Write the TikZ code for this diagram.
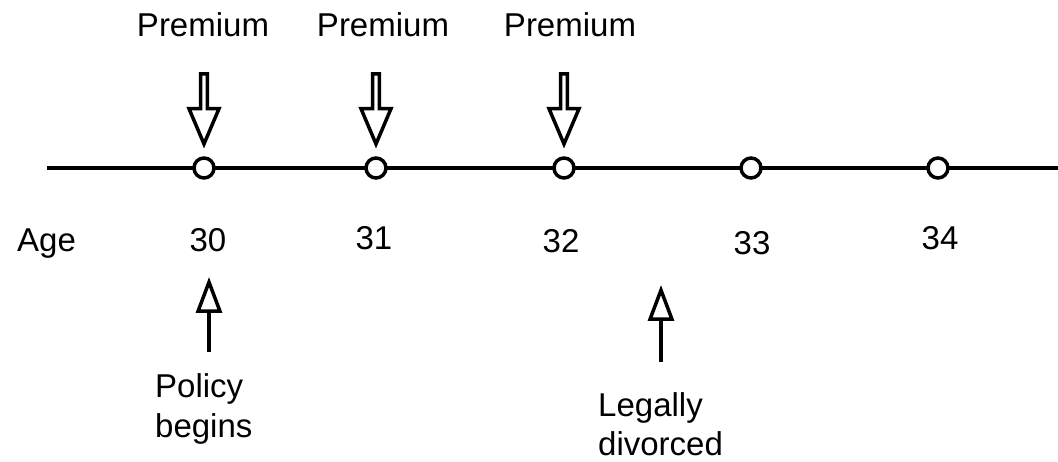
\documentclass[tikz,border=0pt]{standalone}
\usepackage{fontspec}
\setmainfont{Liberation Sans}
\usetikzlibrary{arrows.meta, shapes.arrows}

\begin{document}
\begin{tikzpicture}[
    x=1pt, y=-1pt,
    txt/.style={font=\fontsize{33}{40}\selectfont, inner sep=0pt},
    axis/.style={line width=4pt},
    tick/.style={circle, draw, fill=white, line width=3.5pt, minimum size=20pt, inner sep=0pt},
    payarrow/.style={single arrow, draw, line width=3.5pt, rotate=-90, inner sep=0pt,
        minimum height=70pt, minimum width=30pt, single arrow head extend=6pt,
        single arrow tip angle=46, single arrow head indent=0pt},
    event/.style={line width=3.5pt, -{Triangle[open, length=36pt, width=26pt, line width=3.5pt]}},
]
\useasboundingbox (0,0) rectangle (1058,462);

% =============================================================================
% Time axis
% =============================================================================
\coordinate (lstart) at (47,168);
\coordinate (lend) at (1058,168);
\draw[axis] (lstart) -- (lend);

% Years on the axis
\node[tick] (y30) at (204,168) {};
\node[tick] (y31) at (376,168) {};
\node[tick] (y32) at (564,168) {};
\node[tick] (y33) at (751,168) {};
\node[tick] (y34) at (938,168) {};

% Age labels
\node[txt, anchor=base west] (age) at (17,252) {Age};
\node[txt, anchor=base] (a30) at (208,252) {30};
\node[txt, anchor=base] (a31) at (374,250) {31};
\node[txt, anchor=base] (a32) at (561,253) {32};
\node[txt, anchor=base] (a33) at (752,255) {33};
\node[txt, anchor=base] (a34) at (940,250) {34};

% =============================================================================
% Premium payments
% =============================================================================
\node[txt, anchor=base] (p30) at (203,37) {Premium};
\node[txt, anchor=base] (p31) at (383,37) {Premium};
\node[txt, anchor=base] (p32) at (570,37) {Premium};

\node[payarrow] (d30) at (204,105) {};
\node[payarrow] (d31) at (376,105) {};
\node[payarrow] (d32) at (564,105) {};

% =============================================================================
% Events
% =============================================================================
\coordinate (e1) at (209,352);
\coordinate (e1tip) at (209,277);
\draw[event] (e1) -- (e1tip);
\node[txt, anchor=base west] (begin) at (155,398) {Policy};
\node[txt, anchor=base west] (begin2) at (155,437) {begins};

\coordinate (e2) at (661,362);
\coordinate (e2tip) at (661,285);
\draw[event] (e2) -- (e2tip);
\node[txt, anchor=base west] (divorce) at (598,417) {Legally};
\node[txt, anchor=base west] (divorce2) at (598,455) {divorced};

\end{tikzpicture}
\end{document}
